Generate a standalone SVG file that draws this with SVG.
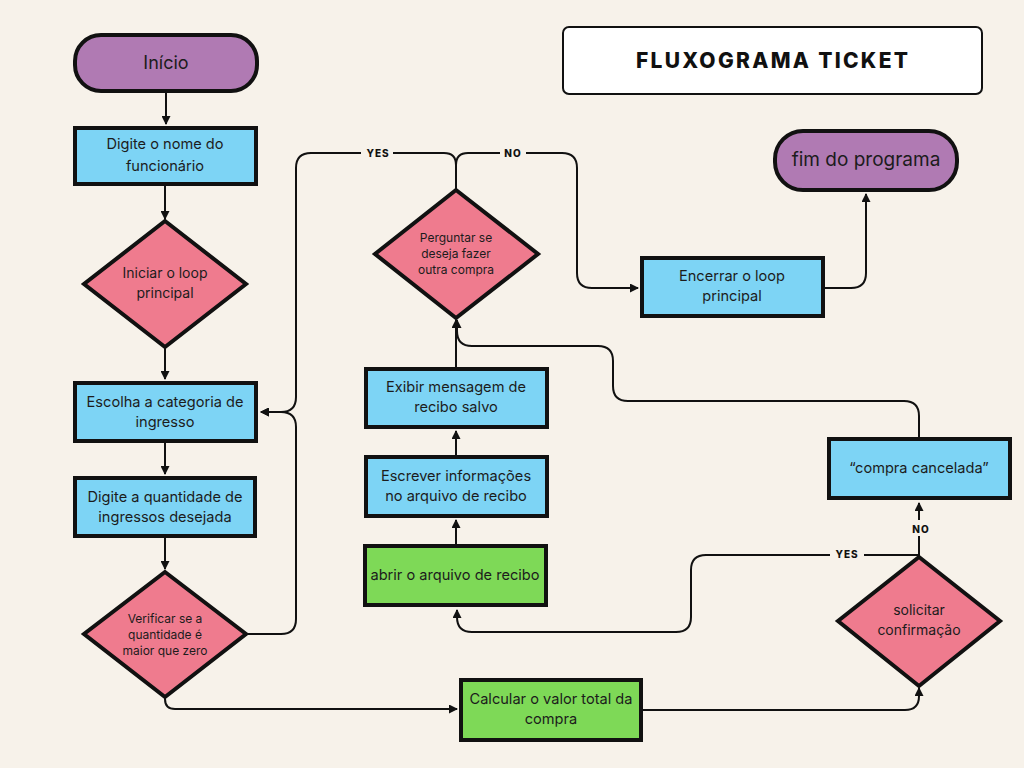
<svg xmlns="http://www.w3.org/2000/svg" width="1024" height="768" viewBox="0 0 1024 768">
<defs>
<marker id="ah" markerUnits="userSpaceOnUse" markerWidth="9" markerHeight="9" refX="8" refY="4.5" orient="auto">
<path d="M0,0 L9,4.5 L0,9 z" fill="#111"/>
</marker>
<style>
.term{fill:#B07AB3;stroke:#111;stroke-width:4}
.proc{fill:#7DD4F5;stroke:#111;stroke-width:4}
.grn{fill:#7ED957;stroke:#111;stroke-width:4}
.dec{fill:#EF7B8E;stroke:#111;stroke-width:4;stroke-linejoin:miter}
.t{font-family:Inter,"Noto Sans","Liberation Sans",sans-serif;fill:#1c1c1c;text-anchor:middle}
.t15{font-size:14.6px}
.t14{font-size:14px}
.t12{font-size:12px}
.lbl{font-family:Inter,"Liberation Sans",sans-serif;font-weight:800;font-size:10px;letter-spacing:1px;fill:#111;text-anchor:middle}
.c{fill:none;stroke:#111;stroke-width:2}
.bg{fill:#F7F2EA}
</style>
</defs>
<rect width="1024" height="768" fill="#F7F2EA"/>

<g id="connectors">
<path class="c" d="M166 93 V124" marker-end="url(#ah)"/>
<path class="c" d="M165 186 V219" marker-end="url(#ah)"/>
<path class="c" d="M165 348 V379" marker-end="url(#ah)"/>
<path class="c" d="M165 443 V474" marker-end="url(#ah)"/>
<path class="c" d="M165 538 V569" marker-end="url(#ah)"/>
<path class="c" d="M165 697 V699 Q165 709 175 709 H457" marker-end="url(#ah)"/>
<path class="c" d="M643 710 H905 Q919 710 919 696 V688" marker-end="url(#ah)"/>
<path class="c" d="M919 557 V503" marker-end="url(#ah)"/>
<path class="c" d="M919 555 H706 Q691 555 691 570 V617 Q691 632 676 632 H472 Q457 632 457 617 V610" marker-end="url(#ah)"/>
<path class="c" d="M456 544 V520" marker-end="url(#ah)"/>
<path class="c" d="M456 455 V431" marker-end="url(#ah)"/>
<path class="c" d="M456 367 V320" marker-end="url(#ah)"/>
<path class="c" d="M919 437 V416 Q919 401 904 401 H628 Q613 401 613 386 V361 Q613 346 598 346 H472 Q457 346 457 331 V320" marker-end="url(#ah)"/>
<path class="c" d="M456 190 V165 Q456 153 444 153 H311 Q296 153 296 168 V397 Q296 412 281 412 H261" marker-end="url(#ah)"/>
<path class="c" d="M456 190 V165 Q456 153 468 153 H562 Q577 153 577 168 V273 Q577 288 592 288 H638" marker-end="url(#ah)"/>
<path class="c" d="M246 634 H281 Q296 634 296 619 V427 Q296 412 281 412 H261" marker-end="url(#ah)"/>
<path class="c" d="M825 288 H851 Q866 288 866 273 V194" marker-end="url(#ah)"/>
<rect class="bg" x="361" y="146" width="32" height="14"/>
<text class="lbl" x="378" y="157">YES</text>
<rect class="bg" x="500" y="146" width="26" height="14"/>
<text class="lbl" x="513" y="157">NO</text>
<rect class="bg" x="830" y="547" width="34" height="14"/>
<text class="lbl" x="847" y="558">YES</text>
<rect class="bg" x="908" y="520" width="24" height="16"/>
<text class="lbl" x="921" y="533">NO</text>
</g>

<g id="title">
<rect x="563" y="27" width="419" height="67" rx="6" fill="#fff" stroke="#111" stroke-width="2"/>
<text x="772" y="68" font-family="Inter,'Liberation Sans',sans-serif" font-weight="800" font-size="21" text-anchor="middle" fill="#111" textLength="272" lengthAdjust="spacing">FLUXOGRAMA TICKET</text>
</g>

<g id="inicio">
<rect class="term" x="75" y="35" width="182" height="56" rx="26"/>
<text class="t" x="166" y="69" font-size="18">Início</text>
</g>

<g id="nome">
<rect class="proc" x="75" y="128" width="181" height="56"/>
<text class="t t15" x="165" y="149">Digite o nome do</text>
<text class="t t15" x="165" y="171">funcionário</text>
</g>

<g id="loop">
<polygon class="dec" points="165,221 246,284 165,347 84,284"/>
<text class="t t14" x="165" y="278">Iniciar o loop</text>
<text class="t t14" x="165" y="298">principal</text>
</g>

<g id="categoria">
<rect class="proc" x="75" y="383" width="181" height="58"/>
<text class="t t15" x="165" y="407">Escolha a categoria de</text>
<text class="t t15" x="165" y="427">ingresso</text>
</g>

<g id="quantidade">
<rect class="proc" x="75" y="478" width="180" height="58"/>
<text class="t t15" x="165" y="502">Digite a quantidade de</text>
<text class="t t15" x="165" y="522">ingressos desejada</text>
</g>

<g id="verificar">
<polygon class="dec" points="165,572 246,634 165,697 84,634"/>
<text class="t t12" x="165" y="623">Verificar se a</text>
<text class="t t12" x="165" y="639">quantidade é</text>
<text class="t t12" x="165" y="655">maior que zero</text>
</g>

<g id="calcular">
<rect class="grn" x="461" y="680" width="180" height="60"/>
<text class="t t15" x="551" y="704">Calcular o valor total da</text>
<text class="t t15" x="551" y="724">compra</text>
</g>

<g id="solicitar">
<polygon class="dec" points="919,557 1000,621 919,686 838,621"/>
<text class="t t14" x="919" y="615">solicitar</text>
<text class="t t14" x="919" y="635">confirmação</text>
</g>

<g id="cancelada">
<rect class="proc" x="829" y="439" width="181" height="59"/>
<text class="t t15" x="919" y="473">“compra cancelada”</text>
</g>

<g id="abrir">
<rect class="grn" x="365" y="546" width="181" height="59"/>
<text class="t t15" x="455" y="580">abrir o arquivo de recibo</text>
</g>

<g id="escrever">
<rect class="proc" x="366" y="457" width="181" height="59"/>
<text class="t t15" x="456" y="481">Escrever informações</text>
<text class="t t15" x="456" y="501">no arquivo de recibo</text>
</g>

<g id="exibir">
<rect class="proc" x="366" y="369" width="181" height="58"/>
<text class="t t15" x="456" y="392">Exibir mensagem de</text>
<text class="t t15" x="456" y="412">recibo salvo</text>
</g>

<g id="perguntar">
<polygon class="dec" points="456,190 538,254 456,318 375,254"/>
<text class="t t12" x="456" y="242">Perguntar se</text>
<text class="t t12" x="456" y="258">deseja fazer</text>
<text class="t t12" x="456" y="274">outra compra</text>
</g>

<g id="encerrar">
<rect class="proc" x="642" y="258" width="181" height="58"/>
<text class="t t15" x="732" y="281">Encerrar o loop</text>
<text class="t t15" x="732" y="301">principal</text>
</g>

<g id="fim">
<rect class="term" x="775" y="131" width="182" height="59" rx="28"/>
<text class="t" x="866" y="166" font-size="19">fim do programa</text>
</g>
</svg>
